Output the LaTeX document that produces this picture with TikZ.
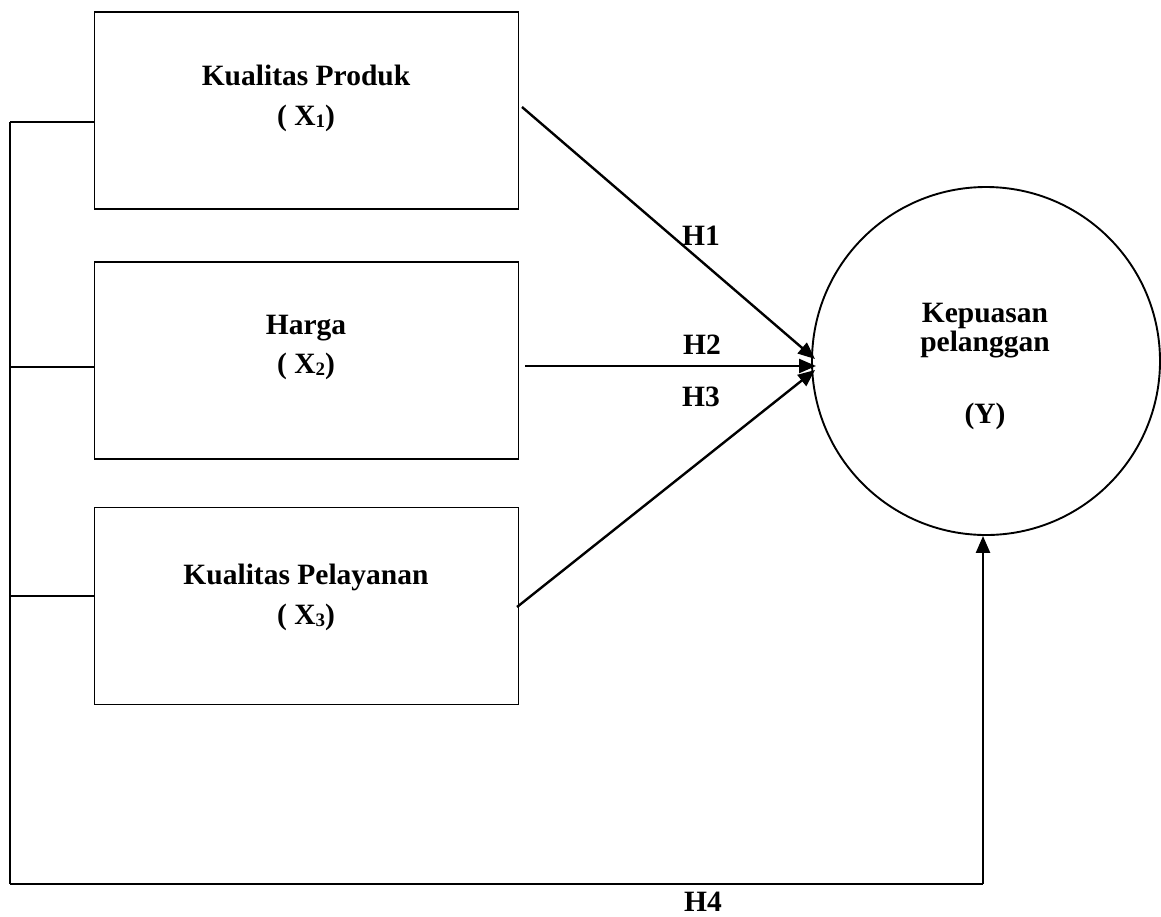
\documentclass[tikz,border=0pt]{standalone}
\usepackage{fontspec}
\setmainfont{Liberation Serif}
\usetikzlibrary{arrows.meta}
\newcommand{\subx}[1]{\raisebox{-2pt}{\fontsize{19}{19}\selectfont #1}}
\begin{document}
\begin{tikzpicture}[x=1pt,y=-1pt,
  box/.style={draw,line width=1.9pt,minimum width=424pt,minimum height=197pt,inner sep=0pt},
  lbl/.style={font=\fontsize{29.5}{40}\selectfont\bfseries,anchor=base,inner sep=0pt},
  ln/.style={line width=1.9pt},
  arr/.style={line width=2.4pt,-{Triangle[length=17pt,width=14pt]}}]
\useasboundingbox (0,0) rectangle (1161,916);
% boxes
\node[box] (x1) at (306.5,110.5) {};
\node[box] (x2) at (306.5,360.5) {};
\node[box] (x3) at (306.5,606) {};
% circle
\node[draw,circle,line width=1.9pt,minimum size=348pt,inner sep=0pt] (y) at (986,361) {};
% texts
\node[lbl] (t1a) at (306,85) {Kualitas Produk};
\node[lbl] (t1b) at (306,125) {( X\subx{1})};
\node[lbl] (t2a) at (306,334) {Harga};
\node[lbl] (t2b) at (306,373) {( X\subx{2})};
\node[lbl] (t3a) at (306,584) {Kualitas Pelayanan};
\node[lbl] (t3b) at (306,624) {( X\subx{3})};
\node[lbl] (tya) at (985,322) {Kepuasan};
\node[lbl] (tyb) at (985,351) {pelanggan};
\node[lbl] (tyc) at (985,423) {(Y)};
\node[lbl] (h1) at (701,245) {H1};
\node[lbl] (h2) at (702,354) {H2};
\node[lbl] (h3) at (701,406) {H3};
\node[lbl] (h4) at (703,911) {H4};
% bus
\coordinate (b1) at (10,122);
\coordinate (b2) at (10,367);
\coordinate (b3) at (10,596);
\coordinate (bb) at (10,884);
\coordinate (br) at (983,884);
\draw[ln] (b1) -- (b1 -| x1.west);
\draw[ln] (b2) -- (b2 -| x2.west);
\draw[ln] (b3) -- (b3 -| x3.west);
\draw[ln] (b1) -- (bb);
\draw[line width=2.4pt] (bb) -- (br);
\draw[arr] (br) -- (y.south -| br);
% arrows
\coordinate (s1) at (522,107);
\coordinate (s2) at (525,366);
\coordinate (s3) at (517,607);
\coordinate (e1) at (815,359);
\coordinate (e2) at (816,366);
\coordinate (e3) at (815,370);
\draw[arr] (s1) -- (e1);
\draw[arr] (s2) -- (e2);
\draw[arr] (s3) -- (e3);
\end{tikzpicture}
\end{document}
